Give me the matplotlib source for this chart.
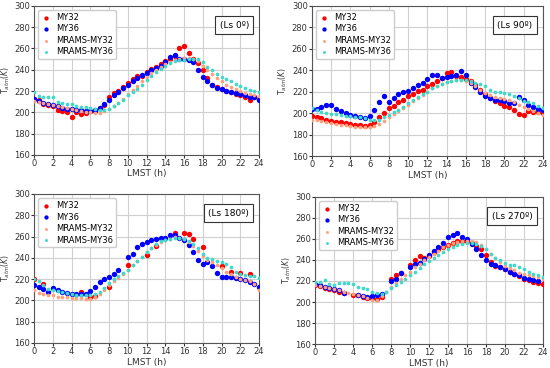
import numpy as np
import matplotlib.pyplot as plt

nan = np.nan
hours = np.arange(0, 24.5, 0.5)

# Ls 0
ls0_my32 = [213, 212, 208, 207, 206, 202, 201, 200, 196, 200, 198, 199, 201, 201, 204, 207, 214, 218, 220, 224, 228, 231, 234, 234, 238,
            241, 243, 245, 248, 250, 253, 260, 262, 256, 250, 246, 240, 232, 226, 224, 222, 220, 219, 217, 216, 214, 212, 214, 213]
ls0_my36 = [213, 211, 209, 208, 207, 206, 204, 203, 203, 202, 202, 201, 201, 202, 204, 208, 212, 216, 219, 223, 226, 229, 232, 235, 237,
            240, 242, 244, 247, 252, 254, 250, 250, 249, 247, 240, 233, 229, 226, 223, 222, 220, 219, 218, 217, 216, 214, 214, 212]
ls0_mrams32 = [211, 210, 209, 208, 207, 206, 205, 204, 203, 202, 201, 200, 200, 199, 199, 201, 203, 206, 209, 213, 217, 221, 225, 229, 233,
               237, 240, 243, 245, 247, 249, 250, 251, 251, 250, 248, 244, 240, 236, 232, 229, 226, 224, 222, 220, 218, 217, 216, 215]
ls0_mrams36 = [219, 215, 214, 214, 214, 210, 209, 208, 208, 206, 205, 205, 204, 203, 202, 202, 203, 206, 209, 212, 216, 219, 222, 226, 230,
               234, 238, 241, 244, 246, 248, 249, 249, 250, 250, 250, 247, 243, 240, 236, 233, 231, 229, 227, 225, 223, 221, 220, 219]

# Ls 90
ls90_my32 = [197, 196, 195, 194, 193, 192, 192, 191, 190, 189, 189, 188, 189, 192, 196, 200, 205, 207, 210, 212, 216, 218, 221, 222, 225,
             227, 230, 233, 237, 238, 235, 234, 232, 230, 226, 222, 218, 214, 211, 209, 207, 206, 203, 199, 198, 202, 201, 201, 200]
ls90_my36 = [204, 204, 206, 208, 208, 204, 202, 200, 198, 197, 196, 195, 197, 203, 210, 216, 210, 214, 218, 220, 221, 223, 226, 228, 232,
             236, 236, 233, 234, 235, 236, 239, 236, 228, 224, 220, 216, 214, 212, 212, 211, 209, 209, 215, 212, 208, 206, 204, 203]
ls90_mrams32 = [194, 194, 193, 192, 191, 190, 189, 189, 188, 187, 187, 187, 187, 188, 190, 193, 196, 199, 202, 205, 208, 211, 214, 217, 220,
                223, 225, 227, 229, 230, 231, 231, 230, 228, 225, 222, 219, 217, 215, 214, 213, 212, 210, 208, 206, 204, 202, 200, 198]
ls90_mrams36 = [205, 203, 201, 200, 199, 199, 198, 197, 197, 196, 196, 195, 194, 194, 194, 196, 198, 201, 203, 206, 209, 212, 215, 218, 220,
                223, 225, 227, 229, 230, 231, 231, 231, 230, 228, 227, 225, 222, 220, 220, 219, 218, 216, 214, 211, 210, 209, 207, 205]

# Ls 180
ls180_my32 = [220, nan, 215, nan, nan, nan, nan, nan, nan, nan, 208, nan, 203, 204, nan, nan, 213, nan, nan, nan, 233, nan, nan, nan, 243,
              nan, 251, nan, nan, nan, 263, nan, 263, 262, 258, nan, 250, nan, nan, nan, 232, nan, 227, nan, 226, nan, 225, nan, nan]
ls180_my36 = [214, 213, 211, 208, 212, 210, 208, 207, 206, 206, 206, 206, 209, 213, 217, 220, 222, 225, 229, nan, 241, 244, 250, 253, 255,
              257, 258, 259, 259, 261, 261, 259, 257, 252, 245, 238, 234, 236, 232, 226, 222, 222, 222, 221, 220, 219, 217, 215, 213]
ls180_mrams32 = [210, 207, 206, 205, 205, 203, 203, 203, 202, 202, 202, 201, 201, 203, 206, 210, 214, 218, 221, 225, 229, 233, 237, 241, 245,
                 249, 252, 255, 257, 258, 260, 259, 258, 255, 251, 246, 242, 238, 236, 233, 230, 227, 225, 222, 220, 219, 218, 215, 210]
ls180_mrams36 = [220, 218, 214, 211, 210, 209, 208, 207, 206, 205, 205, 205, 205, 206, 208, 212, 216, 220, 223, 226, 229, 233, 237, 241, 245,
                 249, 253, 256, 257, 258, 259, 259, 258, 256, 253, 249, 244, 240, 239, 237, 236, 234, 231, 227, 225, 224, 223, 223, 221]

# Ls 270
ls270_my32 = [216, 215, 213, 212, 211, 210, 209, nan, 207, 207, 205, 204, 204, 203, 205, nan, 222, 226, 228, nan, 235, 240, 244, 242, 244,
              248, 250, 252, 254, 256, 258, 258, 258, 256, 253, 250, 245, 238, 234, 233, 231, 229, 227, 225, 222, 221, 219, 218, 217]
ls270_my36 = [217, 216, 214, 213, 212, 211, 209, nan, nan, 207, 206, 205, 206, 207, 208, nan, 220, 222, 228, nan, 233, 236, 237, 241, 245,
              249, 252, 256, 262, 264, 266, 262, 260, 255, 250, 245, 240, 236, 235, 233, 231, 229, 227, 226, 223, 222, 221, 220, nan]
ls270_mrams32 = [216, 215, 214, 213, 212, 211, 210, 209, 208, 207, 206, 204, 202, 202, 206, 210, 214, 218, 222, 226, 229, 233, 236, 240, 243,
                 246, 249, 252, 254, 256, 257, 258, 258, 258, 257, 254, 250, 246, 242, 238, 234, 232, 230, 228, 227, 226, 225, 224, 222]
ls270_mrams36 = [219, 219, 221, 217, 216, 218, 218, 218, 217, 214, 213, 212, 210, 209, 208, 210, 213, 216, 219, 222, 226, 229, 232, 236, 239,
                 242, 245, 248, 250, 252, 254, 255, 256, 256, 255, 253, 250, 246, 242, 240, 237, 235, 235, 233, 231, 229, 227, 226, 224]

panels = [
    ("(Ls 0º)", ls0_my32, ls0_my36, ls0_mrams32, ls0_mrams36),
    ("(Ls 90º)", ls90_my32, ls90_my36, ls90_mrams32, ls90_mrams36),
    ("(Ls 180º)", ls180_my32, ls180_my36, ls180_mrams32, ls180_mrams36),
    ("(Ls 270º)", ls270_my32, ls270_my36, ls270_mrams32, ls270_mrams36),
]

# axes positions (left, bottom, width, height) in figure fractions
positions = [
    [0.062, 0.579, 0.409, 0.405],
    [0.567, 0.576, 0.420, 0.408],
    [0.062, 0.068, 0.409, 0.405],
    [0.573, 0.065, 0.414, 0.400],
]

fig = plt.figure(figsize=(5.5, 3.68), dpi=100)

for pos, (title, my32, my36, m32, m36) in zip(positions, panels):
    ax = fig.add_axes(pos)
    ax.scatter(hours, my32, s=15, color='#ff0000', label='MY32', zorder=3, linewidths=0)
    ax.scatter(hours, my36, s=15, color='#0000ff', label='MY36', zorder=3, linewidths=0)
    ax.scatter(hours, m32, s=7, color='#ffa07a', label='MRAMS-MY32', zorder=3, linewidths=0)
    ax.scatter(hours, m36, s=7, color='#3dd9c9', label='MRAMS-MY36', zorder=3, linewidths=0)

    ax.set_xlim(0, 24)
    ax.set_ylim(160, 300)
    ax.set_xticks(np.arange(0, 25, 2))
    ax.set_yticks(np.arange(160, 301, 20))
    ax.grid(True, color='#d0d0d0', linewidth=0.8)
    ax.set_axisbelow(True)
    ax.tick_params(labelsize=6, colors='#333333', length=2, pad=1)
    for sp in ax.spines.values():
        sp.set_color('#555555')
    ax.set_xlabel('LMST (h)', fontsize=6.5, labelpad=1, color='#333333')
    ax.set_ylabel('T$_{atm}$($K$)', fontsize=5.5, color='#333333')
    ax.yaxis.set_label_coords(-0.097, 0.5)

    ax.legend(loc='upper left', fontsize=6, markerscale=0.8, handletextpad=0.6, handlelength=1.2,
              borderpad=0.35, labelspacing=0.3, framealpha=1, edgecolor='#cccccc')
    ax.text(0.955, 0.87, title, transform=ax.transAxes, ha='right', va='center', fontsize=6.5,
            bbox=dict(boxstyle='square,pad=0.5', facecolor='white', edgecolor='#333333', linewidth=0.8))

fig.savefig('out.png', dpi=100)
